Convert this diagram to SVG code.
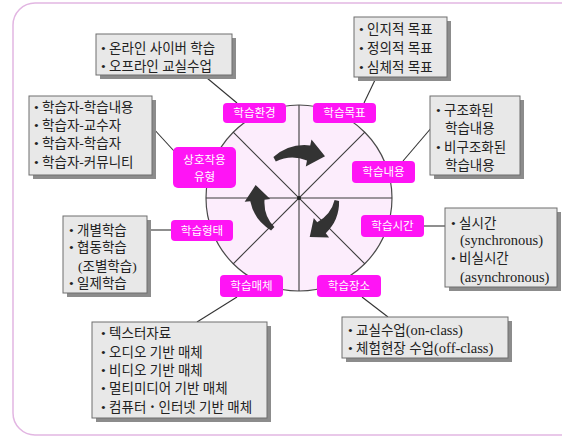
<svg xmlns="http://www.w3.org/2000/svg" width="562" height="440" viewBox="0 0 562 440">
<style>
.frame{fill:#ffffff;stroke:#e2b6e2;stroke-width:1.5}
.wheel{fill:#fcedfc;stroke:#4a4a4a;stroke-width:1.2}
.spoke{stroke:#3a3a3a;stroke-width:1.1;fill:none}
.turn{fill:#333333}
.conn{stroke:#333333;stroke-width:1.1;fill:none}
.shadow{fill:#8c8c8c}
.box{fill:#e8e8e8;stroke:#6e6e6e;stroke-width:1}
.bt{font-family:"Liberation Serif","Noto Sans CJK KR",serif;font-size:13.5px;fill:#222222}
.lat{font-size:14.5px}
.dot{font-weight:bold;font-size:16px}
.tag{fill:#ff14f5}
.tt{font-family:"Noto Sans CJK KR","Noto Sans",sans-serif;font-size:11.5px;fill:#ffffff;text-anchor:middle}
</style>
<defs>
<path id="curl" d="M -25.6 -41 Q -9.6 -55 11.2 -52.6 L 12.5 -58.5 L 26 -41.7 L 6.8 -31.5 L 8 -37.5 Q -8 -44 -23.2 -36.5 Z"/>
</defs>
<rect class="frame" x="13" y="3" width="620" height="432" rx="22"/>

<g id="wheel">
<circle class="wheel" cx="299" cy="198" r="93"/>
<line class="spoke" x1="299" y1="105" x2="299" y2="291"/>
<line class="spoke" x1="206" y1="198" x2="392" y2="198"/>
<line class="spoke" x1="233.2" y1="132.2" x2="364.8" y2="263.8"/>
<line class="spoke" x1="364.8" y1="132.2" x2="233.2" y2="263.8"/>
<circle cx="299" cy="198" r="2" fill="#222"/>
<use href="#curl" class="turn" transform="translate(299,198)"/>
<use href="#curl" class="turn" transform="translate(296,195) rotate(130) scale(0.9)"/>
<use href="#curl" class="turn" transform="translate(300,196) rotate(252) scale(0.93)"/>
</g>

<g id="connectors">
<line class="conn" x1="207" y1="78" x2="237" y2="103"/>
<line class="conn" x1="375" y1="80" x2="364" y2="103"/>
<line class="conn" x1="152" y1="127" x2="174" y2="151"/>
<line class="conn" x1="432" y1="127" x2="403" y2="161"/>
<line class="conn" x1="147" y1="230" x2="171" y2="230"/>
<line class="conn" x1="424" y1="226" x2="445" y2="226"/>
<line class="conn" x1="237" y1="297" x2="197" y2="322"/>
<line class="conn" x1="362" y1="297" x2="388" y2="317"/>
</g>

<g id="box-env">
<rect class="shadow" x="100" y="38" width="136" height="41"/>
<rect class="box" x="96" y="34" width="136" height="41"/>
<text class="bt" x="101" y="53">• 온라인 사이버 학습</text>
<text class="bt" x="101" y="71">• 오프라인 교실수업</text>
</g>

<g id="box-goal">
<rect class="shadow" x="358" y="21" width="93" height="60"/>
<rect class="box" x="354" y="17" width="93" height="60"/>
<text class="bt" x="359" y="34">• 인지적 목표</text>
<text class="bt" x="359" y="53">• 정의적 목표</text>
<text class="bt" x="359" y="72">• 심체적 목표</text>
</g>

<g id="box-interaction">
<rect class="shadow" x="33" y="100" width="123" height="79"/>
<rect class="box" x="29" y="96" width="123" height="79"/>
<text class="bt" x="34" y="112">• 학습자-학습내용</text>
<text class="bt" x="34" y="130">• 학습자-교수자</text>
<text class="bt" x="34" y="148">• 학습자-학습자</text>
<text class="bt" x="34" y="167">• 학습자-커뮤니티</text>
</g>

<g id="box-content">
<rect class="shadow" x="434" y="100" width="90" height="79"/>
<rect class="box" x="430" y="96" width="90" height="79"/>
<text class="bt" x="436" y="115">• 구조화된</text>
<text class="bt" x="445" y="133">학습내용</text>
<text class="bt" x="436" y="152">• 비구조화된</text>
<text class="bt" x="445" y="170">학습내용</text>
</g>

<g id="box-form">
<rect class="shadow" x="67" y="220" width="84" height="77"/>
<rect class="box" x="63" y="216" width="84" height="77"/>
<text class="bt" x="69" y="235">• 개별학습</text>
<text class="bt" x="69" y="252">• 협동학습</text>
<text class="bt" x="78" y="271">(조별학습)</text>
<text class="bt" x="69" y="288">• 일제학습</text>
</g>

<g id="box-time">
<rect class="shadow" x="449" y="212" width="112" height="79"/>
<rect class="box" x="445" y="208" width="112" height="79"/>
<text class="bt" x="451" y="228">• 실시간</text>
<text class="bt lat" x="460" y="245">(synchronous)</text>
<text class="bt" x="451" y="263">• 비실시간</text>
<text class="bt lat" x="460" y="282">(asynchronous)</text>
</g>

<g id="box-media">
<rect class="shadow" x="96" y="326" width="175" height="96"/>
<rect class="box" x="92" y="322" width="175" height="96"/>
<text class="bt" x="101" y="338">• 텍스터자료</text>
<text class="bt" x="101" y="357">• 오디오 기반 매체</text>
<text class="bt" x="101" y="375">• 비디오 기반 매체</text>
<text class="bt" x="101" y="393">• 멀티미디어 기반 매체</text>
<text class="bt" x="101" y="412">• 컴퓨터 <tspan class="dot">·</tspan> 인터넷 기반 매체</text>
</g>

<g id="box-place">
<rect class="shadow" x="346" y="321" width="166" height="41"/>
<rect class="box" x="342" y="317" width="166" height="41"/>
<text class="bt" x="348" y="335">• 교실수업<tspan class="lat">(on-class)</tspan></text>
<text class="bt" x="348" y="353">• 체험현장 수업<tspan class="lat">(off-class)</tspan></text>
</g>

<g id="tag-env"><rect class="tag" x="223" y="103" width="63" height="20" rx="4"/><text class="tt" x="254.5" y="117">학습환경</text></g>
<g id="tag-goal"><rect class="tag" x="313" y="103" width="63" height="20" rx="4"/><text class="tt" x="344.5" y="117">학습목표</text></g>
<g id="tag-interaction"><rect class="tag" x="173" y="147" width="63" height="41" rx="5"/><text class="tt" x="204.5" y="164">상호작용</text><text class="tt" x="204.5" y="181">유형</text></g>
<g id="tag-content"><rect class="tag" x="352" y="161" width="63" height="22" rx="4"/><text class="tt" x="383.5" y="176">학습내용</text></g>
<g id="tag-form"><rect class="tag" x="171" y="220" width="62" height="21" rx="4"/><text class="tt" x="202" y="234.5">학습형태</text></g>
<g id="tag-time"><rect class="tag" x="361" y="215" width="63" height="22" rx="4"/><text class="tt" x="392.5" y="230">학습시간</text></g>
<g id="tag-media"><rect class="tag" x="220" y="275" width="63" height="22" rx="4"/><text class="tt" x="251.5" y="290">학습매체</text></g>
<g id="tag-place"><rect class="tag" x="317" y="275" width="64" height="22" rx="4"/><text class="tt" x="349" y="290">학습장소</text></g>
</svg>
